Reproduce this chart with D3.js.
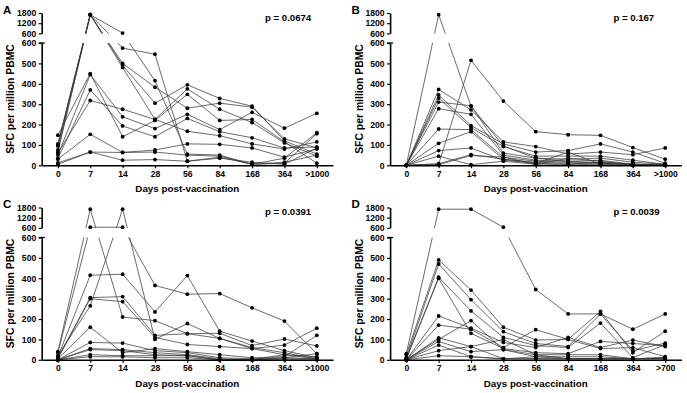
<!DOCTYPE html>
<html>
<head>
<meta charset="utf-8">
<script src="https://cdnjs.cloudflare.com/ajax/libs/d3/7.8.5/d3.min.js"></script>
<style>
	body { margin: 0; background: #fff; }
	text { font-family: "Liberation Sans", Arial, sans-serif; font-weight: bold; }
</style>
</head>
<body>
<div id="chart"></div>
<script>

// category labels on the x axis
const daysLong = ["0", "7", "14", "28", "56", "84", "168", "364", ">1000"];
const daysShort = ["0", "7", "14", "28", "56", "84", "168", "364", ">700"];

// y ticks for both halves of the broken axis
const lowTicks = [0, 100, 200, 300, 400, 500, 600];
const highTicks = [600, 1200, 1800];

// SFC per million PBMC, one row per subject, one value per time point
const seriesA = [
	[100, 1700, 620, 415, 55, 50, 5, 35, 160],
	[95, 1700, 575, 545, 20, 40, 5, 10, 155],
	[105, 1700, 500, 383, 280, 305, 285, 130, 85],
	[75, 1700, 490, 305, 395, 328, 290, 120, 55],
	[65, 1700, 480, 225, 375, 275, 210, 110, 45],
	[148, 450, 140, 220, 348, 220, 225, 115, 10],
	[50, 445, 238, 180, 250, 175, 260, 182, 255],
	[35, 370, 193, 140, 230, 165, 135, 85, 90],
	[60, 318, 275, 225, 167, 145, 105, 80, 115],
	[30, 152, 63, 75, 105, 103, 85, 40, 80],
	[5, 65, 25, 28, 20, 35, 15, 5, 85],
	[12, 65, 63, 65, 50, 45, 5, 15, 50]
];

const seriesB = [
	[0, 1700, 290, 95, 35, 20, 10, 5, 3],
	[0, 5, 515, 315, 165, 150, 147, 87, 30],
	[0, 372, 272, 115, 92, 55, 65, 52, 85],
	[0, 345, 195, 105, 65, 72, 105, 65, 10],
	[0, 330, 185, 92, 45, 45, 45, 25, 5],
	[0, 310, 292, 60, 35, 30, 35, 15, 5],
	[0, 278, 250, 50, 25, 20, 25, 5, 3],
	[0, 178, 175, 40, 20, 15, 15, 5, 0],
	[0, 108, 165, 30, 15, 10, 10, 3, 0],
	[0, 72, 85, 25, 10, 65, 5, 0, 0],
	[0, 45, 3, 20, 5, 5, 3, 0, 0],
	[0, 8, 52, 30, 10, 5, 15, 5, 3],
	[0, 3, 48, 40, 5, 35, 20, 0, 0]
];

const seriesC = [
	[40, 1700, 210, 192, 128, 105, 60, 35, 5],
	[35, 640, 640, 365, 322, 325, 255, 190, 30],
	[20, 265, 1700, 100, 178, 105, 55, 25, 15],
	[15, 415, 420, 235, 413, 140, 92, 45, 10],
	[10, 305, 310, 120, 128, 130, 70, 102, 68],
	[5, 300, 285, 110, 75, 65, 55, 72, 155],
	[5, 160, 35, 55, 40, 25, 10, 15, 120],
	[0, 85, 82, 45, 35, 10, 5, 10, 30],
	[0, 55, 50, 35, 25, 5, 0, 25, 5],
	[0, 50, 45, 25, 20, 0, 0, 10, 5],
	[0, 25, 20, 20, 20, 0, 0, 5, 5],
	[0, 15, 15, 10, 10, 0, 0, 0, 0]
];

const seriesD = [
	[30, 1700, 1700, 640, 345, 225, 225, 150, 225],
	[25, 490, 342, 160, 97, 100, 237, 35, 140],
	[10, 470, 295, 138, 80, 65, 225, 45, 82],
	[5, 405, 240, 110, 70, 60, 180, 10, 75],
	[5, 400, 130, 55, 35, 30, 90, 80, 70],
	[0, 215, 155, 85, 60, 110, 60, 97, 65],
	[0, 170, 150, 60, 148, 100, 55, 60, 15],
	[0, 108, 65, 100, 25, 25, 25, 5, 10],
	[0, 100, 192, 50, 15, 15, 15, 5, 10],
	[0, 90, 40, 50, 25, 5, 5, 5, 10],
	[0, 72, 15, 5, 15, 5, 5, 5, 5],
	[0, 45, 65, 5, 5, 5, 5, 5, 5],
	[0, 20, 15, 5, 5, 5, 5, 5, 5]
];

const panelLetters = ["A", "B", "C", "D"];
const pValues = ["p = 0.0674", "p = 0.167", "p = 0.0391", "p = 0.0039"];


class PanelVis {

	constructor(svg, id, offset, labels, data, letter, pText) {
		this.svg = svg;
		this.id = id;
		this.offset = offset;
		this.labels = labels;
		this.data = data;
		this.letter = letter;
		this.pText = pText;

		this.initVis();
	}

	initVis() {
		let vis = this;

		vis.g = vis.svg.append("g")
			.attr("transform", "translate(" + vis.offset[0] + "," + vis.offset[1] + ")");

		vis.axisX = 41.7;
		vis.x = d3.scalePoint()
			.domain(vis.labels)
			.range([vis.axisX, 333])
			.padding(0.5);

		// broken y axis: two linear pieces
		vis.yLow = d3.scaleLinear().domain([0, 600]).range([165.3, 43]);
		vis.yHigh = d3.scaleLinear().domain([600, 1800]).range([33.4, 13]);
		vis.y = v => v > 600 ? vis.yHigh(v) : vis.yLow(v);

		// lines are straight on screen, but blanked inside the axis gap
		let clip = vis.svg.append("defs").append("clipPath").attr("id", "gap" + vis.id);
		clip.append("rect").attr("x", 0).attr("y", 0).attr("width", 345).attr("height", 33.4);
		clip.append("rect").attr("x", 0).attr("y", 43).attr("width", 345).attr("height", 140);

		vis.updateVis();
	}

	updateVis() {
		let vis = this;

		let line = d3.line()
			.x((d, i) => vis.x(vis.labels[i]))
			.y(d => vis.y(d));

		vis.g.append("g")
			.attr("clip-path", "url(#gap" + vis.id + ")")
			.selectAll("path")
			.data(vis.data)
			.enter()
			.append("path")
			.attr("d", line)
			.attr("fill", "none")
			.attr("stroke", "#3a3a3a")
			.attr("stroke-width", 0.75);

		// dots
		let pts = [];
		vis.data.forEach(s => s.forEach((v, i) => pts.push({ label: vis.labels[i], v: v })));

		vis.g.append("g")
			.selectAll("circle")
			.data(pts)
			.enter()
			.append("circle")
			.attr("cx", d => vis.x(d.label))
			.attr("cy", d => vis.y(d.v))
			.attr("r", 1.9)
			.attr("fill", "#000");

		// axes
		let yAxisLow = d3.axisLeft(vis.yLow).tickValues(lowTicks).tickFormat(d3.format("d"))
			.tickSize(3).tickSizeOuter(0).tickPadding(2.5);
		let yAxisHigh = d3.axisLeft(vis.yHigh).tickValues(highTicks).tickFormat(d3.format("d"))
			.tickSize(3).tickSizeOuter(0).tickPadding(2.5);
		let xAxis = d3.axisBottom(vis.x).tickSize(3).tickSizeOuter(0).tickPadding(2.5);

		let gLow = vis.g.append("g")
			.attr("class", "axis")
			.attr("transform", "translate(" + vis.axisX + ",0)")
			.call(yAxisLow);
		vis.g.append("g")
			.attr("class", "axis")
			.attr("transform", "translate(" + vis.axisX + ",0)")
			.call(yAxisHigh);
		vis.g.append("g")
			.attr("class", "axis")
			.attr("transform", "translate(0," + vis.yLow(0) + ")")
			.call(xAxis);

		// stub at the top of the lower piece (break mark)
		gLow.append("line")
			.attr("x1", -3).attr("x2", 3)
			.attr("y1", vis.yLow(600)).attr("y2", vis.yLow(600))
			.attr("stroke", "#000").attr("stroke-width", 1.3);

		vis.g.selectAll(".axis path.domain").attr("stroke", "#000").attr("stroke-width", 1.6);
		vis.g.selectAll(".axis .tick line").attr("stroke", "#000").attr("stroke-width", 1.2);
		vis.g.selectAll(".axis text")
			.attr("fill", "#000")
			.style("font-size", "8.6px")
			.style("font-family", "'Liberation Sans', Arial, sans-serif")
			.style("font-weight", "bold");

		// panel letter
		vis.g.append("text")
			.attr("x", 3)
			.attr("y", 13.5)
			.style("font-size", "11.5px")
			.text(vis.letter);

		// p value
		vis.g.append("text")
			.attr("x", 265)
			.attr("y", 20.8)
			.style("font-size", "9.6px")
			.text(vis.pText);

		// axis titles
		vis.g.append("text")
			.attr("transform", "translate(10.5,99) rotate(-90)")
			.attr("text-anchor", "middle")
			.attr("dy", "0.35em")
			.style("font-size", "10.4px")
			.text("SFC per million PBMC");

		vis.g.append("text")
			.attr("x", (vis.axisX + 333) / 2)
			.attr("y", 192)
			.attr("text-anchor", "middle")
			.style("font-size", "9.8px")
			.text("Days post-vaccination");
	}
}


let svg = d3.select("#chart").append("svg")
	.attr("width", 687)
	.attr("height", 393);

new PanelVis(svg, "A", [0, 0], daysLong, seriesA, panelLetters[0], pValues[0]);
new PanelVis(svg, "B", [348.4, 0], daysLong, seriesB, panelLetters[1], pValues[1]);
new PanelVis(svg, "C", [0, 194.5], daysLong, seriesC, panelLetters[2], pValues[2]);
new PanelVis(svg, "D", [348.4, 194.5], daysShort, seriesD, panelLetters[3], pValues[3]);

</script>
</body>
</html>
